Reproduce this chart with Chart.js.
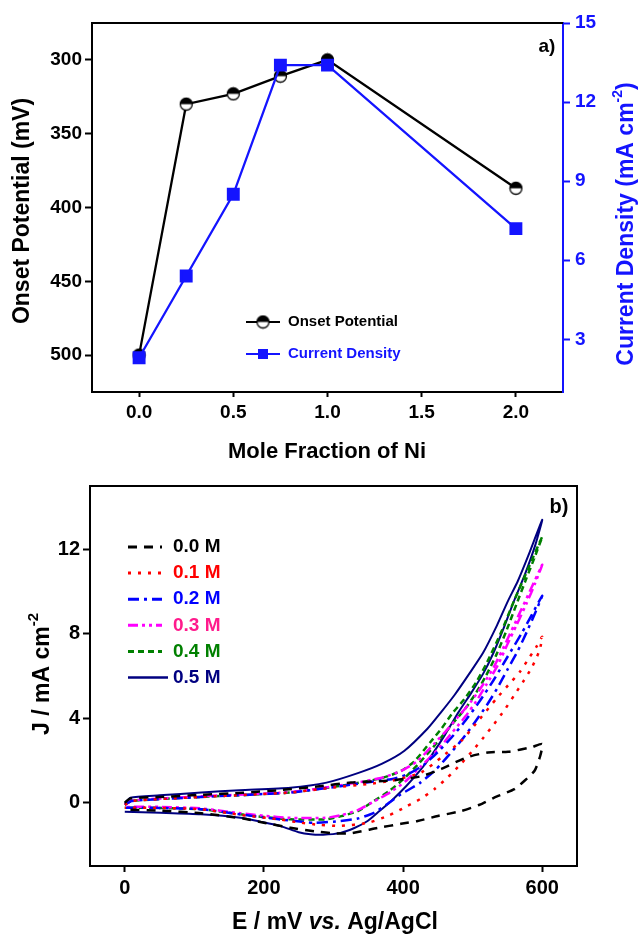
<!DOCTYPE html>
<html lang="en">
<head>
<meta charset="UTF-8" />
<title>Onset Potential / Current Density and CV curves</title>
<style>
  body { margin: 0; background: #fff; }
  canvas { position: absolute; left: 0; }
  #chartA { top: 0; }
  #chartB { top: 470px; }
</style>
<script src="https://cdn.jsdelivr.net/npm/chart.js"></script>
</head>
<body>
<canvas id="chartA" width="639" height="466"></canvas>
<canvas id="chartB" width="639" height="466"></canvas>
<script>
  const FAMILY = '"Liberation Sans", Arial, sans-serif';

  // ---- panel a) ----
  const moleFraction   = [0, 0.25, 0.5, 0.75, 1.0, 2.0];
  const onsetPotential = [500, 330, 323, 311, 300, 387];
  const currentDensity = [2.3, 5.4, 8.5, 13.4, 13.4, 7.2];
  const fractionTicks  = [0, 0.5, 1.0, 1.5, 2.0];
  const onsetTicks     = [300, 350, 400, 450, 500];
  const densityTicks   = [3, 6, 9, 12, 15];

  // ---- panel b) : each loop runs 0 -> 600 mV and back to 0 ----
  const cv00E = [0, 8, 50, 110, 170, 225, 280, 325, 383, 426, 455, 491, 522, 551, 584, 600,
                 597, 589, 575, 560, 531, 510, 483, 450, 421, 397, 363, 325, 300, 272, 238, 200, 170, 110, 50, 0];
  const cv00J = [0, 0.2, 0.27, 0.37, 0.47, 0.6, 0.78, 0.95, 1.05, 1.25, 1.6, 2.14, 2.38, 2.41, 2.62, 2.78,
                 2.2, 1.51, 1.05, 0.64, 0.24, -0.1, -0.4, -0.63, -0.87, -1.0, -1.2, -1.45, -1.45, -1.35, -1.19, -0.95, -0.75, -0.5, -0.38, -0.33];

  const cv01E = [0, 10, 110, 180, 238, 300, 349, 385, 426, 455, 484, 510, 534, 551, 568, 582, 592, 600,
                 596, 585, 572, 560, 546, 531, 516, 500, 483, 464, 445, 426, 406, 380, 350, 310, 280, 253, 224, 166, 109, 50, 0];
  const cv01J = [-0.1, 0.08, 0.27, 0.38, 0.48, 0.72, 0.88, 1.05, 1.43, 2.15, 2.94, 3.95, 4.92, 5.56, 6.2, 6.9, 7.4, 7.86,
                 7.2, 6.4, 5.7, 5.1, 4.4, 3.73, 3.1, 2.46, 1.83, 1.19, 0.64, 0.2, -0.16, -0.6, -0.95, -1.1, -1.05, -0.95, -0.8, -0.58, -0.31, -0.25, -0.24];

  const cv02E = [0, 10, 110, 180, 238, 310, 368, 383, 407, 430, 450, 470, 490, 510, 530, 550, 570, 585, 600,
                 590, 578, 565, 550, 535, 520, 503, 485, 467, 448, 425, 397, 378, 358, 335, 300, 272, 238, 200, 166, 109, 50, 0];
  const cv02J = [-0.1, 0.08, 0.27, 0.38, 0.48, 0.78, 1.05, 1.11, 1.35, 1.8, 2.4, 3.1, 3.9, 4.8, 5.8, 6.9, 8.0, 8.9, 9.8,
                 9.0, 8.1, 7.2, 6.3, 5.4, 4.6, 3.8, 3.0, 2.3, 1.6, 0.95, 0.4, -0.05, -0.48, -0.75, -0.9, -0.95, -0.85, -0.7, -0.55, -0.31, -0.25, -0.24];

  const cv03E = [0, 10, 110, 180, 238, 310, 368, 397, 420, 445, 462, 480, 498, 515, 530, 548, 565, 582, 600,
                 590, 577, 563, 550, 536, 520, 505, 490, 475, 460, 445, 425, 403, 382, 358, 335, 310, 288, 238, 200, 166, 109, 50, 0];
  const cv03J = [-0.1, 0.1, 0.3, 0.4, 0.5, 0.82, 1.17, 1.5, 1.95, 2.8, 3.4, 4.1, 4.8, 5.6, 6.4, 7.6, 8.8, 10.0, 11.27,
                 10.4, 9.4, 8.4, 7.5, 6.5, 5.6, 4.8, 4.1, 3.5, 2.9, 2.35, 1.7, 1.0, 0.5, 0.05, -0.35, -0.6, -0.72, -0.72, -0.62, -0.5, -0.27, -0.2, -0.2];

  const cv04E = [0, 10, 110, 180, 238, 310, 368, 397, 416, 440, 455, 470, 488, 505, 520, 540, 560, 580, 600,
                 590, 577, 563, 548, 534, 519, 503, 488, 470, 455, 440, 421, 400, 380, 358, 335, 310, 288, 238, 200, 166, 109, 50, 0];
  const cv04J = [-0.1, 0.08, 0.27, 0.38, 0.48, 0.8, 1.15, 1.5, 1.95, 2.9, 3.5, 4.2, 4.9, 5.7, 6.6, 8.0, 9.6, 11.1, 12.6,
                 11.7, 10.6, 9.4, 8.1, 7.0, 6.0, 5.1, 4.4, 3.7, 3.1, 2.5, 1.8, 1.1, 0.55, 0.08, -0.4, -0.65, -0.79, -0.79, -0.68, -0.55, -0.31, -0.25, -0.24];

  const cv05E = [0, 8, 50, 110, 165, 238, 290, 335, 370, 402, 435, 455, 474, 495, 515, 535, 550, 565, 580, 600,
                 590, 575, 560, 545, 530, 515, 498, 480, 460, 440, 426, 405, 383, 366, 349, 330, 310, 285, 267, 250, 224, 195, 166, 109, 51, 0];
  const cv05J = [-0.05, 0.24, 0.35, 0.48, 0.59, 0.71, 0.95, 1.4, 1.85, 2.46, 3.5, 4.3, 5.1, 6.1, 7.1, 8.4, 9.5, 10.5, 11.7, 13.4,
                 12.2, 10.8, 9.6, 8.3, 7.1, 6.1, 5.2, 4.3, 3.2, 2.2, 1.59, 0.8, 0.08, -0.4, -0.87, -1.2, -1.43, -1.52, -1.5, -1.4, -1.11, -0.9, -0.71, -0.55, -0.48, -0.43];

  const cvLabels       = ['0.0 M', '0.1 M', '0.2 M', '0.3 M', '0.4 M', '0.5 M'];
  const potentialTicks = [0, 200, 400, 600];
  const jTicks         = [0, 4, 8, 12];

  const font = (size, style) => (style || '') + ' bold ' + size + 'px ' + FAMILY;

  function richText(ctx, parts, x, y, angle) {
    ctx.save();
    ctx.translate(x, y);
    ctx.rotate(angle || 0);
    ctx.textBaseline = 'middle';
    ctx.textAlign = 'left';
    let w = 0;
    parts.forEach(p => { ctx.font = p.font; w += ctx.measureText(p.text).width; });
    let cx = -w / 2;
    parts.forEach(p => {
      ctx.font = p.font;
      ctx.fillStyle = p.color;
      ctx.fillText(p.text, cx, p.dy || 0);
      cx += ctx.measureText(p.text).width;
    });
    ctx.restore();
  }

  function halfCircle(r) {
    const c = document.createElement('canvas');
    const s = Math.ceil(2 * r + 3);
    c.width = s; c.height = s;
    const g = c.getContext('2d');
    const m = s / 2;
    g.beginPath(); g.arc(m, m, r, 0, Math.PI * 2); g.fillStyle = '#fff'; g.fill();
    g.beginPath(); g.arc(m, m, r, Math.PI, 0); g.closePath(); g.fillStyle = '#000'; g.fill();
    g.beginPath(); g.arc(m, m, r, 0, Math.PI * 2); g.lineWidth = 1.3; g.strokeStyle = '#000'; g.stroke();
    return c;
  }

  const BLUE = '#1414ff';
  const circleMark = halfCircle(6);

  function axisStyle(color, size, tickLen) {
    return {
      ticks: { font: { family: FAMILY, size: size, weight: 'bold' }, color: color, padding: 3 },
      grid: { drawOnChartArea: false, drawTicks: true, tickLength: tickLen, tickWidth: 2, tickColor: color },
      border: { display: true, color: color, width: 2 }
    };
  }

  // ---------- chart a ----------
  const decorA = {
    id: 'decorA',
    afterDraw(chart) {
      const ctx = chart.ctx, a = chart.chartArea;
      ctx.save();
      ctx.strokeStyle = '#000'; ctx.lineWidth = 2;
      ctx.beginPath(); ctx.moveTo(a.left - 1, a.top); ctx.lineTo(a.right, a.top); ctx.stroke();

      richText(ctx, [{ text: 'Onset Potential (mV)', font: font(23), color: '#000' }], 23, 211, -Math.PI / 2);
      richText(ctx, [
        { text: 'Current Density (mA cm', font: font(23), color: BLUE },
        { text: '-2', font: font(14), color: BLUE, dy: -9 },
        { text: ')', font: font(23), color: BLUE }
      ], 627, 224, -Math.PI / 2);
      richText(ctx, [{ text: 'Mole Fraction of Ni', font: font(22), color: '#000' }], 327, 452, 0);
      richText(ctx, [{ text: 'a)', font: font(19), color: '#000' }], 547, 47, 0);

      // legend
      const items = [
        { y: 322, color: '#000', label: 'Onset Potential', mark: 'circle' },
        { y: 354, color: BLUE, label: 'Current Density', mark: 'rect' }
      ];
      items.forEach(it => {
        ctx.strokeStyle = it.color; ctx.lineWidth = 2;
        ctx.beginPath(); ctx.moveTo(246, it.y); ctx.lineTo(280, it.y); ctx.stroke();
        if (it.mark === 'circle') {
          ctx.drawImage(circleMark, 263 - circleMark.width / 2, it.y - circleMark.height / 2);
        } else {
          ctx.fillStyle = it.color; ctx.fillRect(258, it.y - 5, 10, 10);
        }
        ctx.font = font(15); ctx.fillStyle = it.color;
        ctx.textAlign = 'left'; ctx.textBaseline = 'middle';
        ctx.fillText(it.label, 288, it.y);
      });
      ctx.restore();
    }
  };

  const xA = axisStyle('#000', 19, 5);
  xA.ticks.callback = v => Number(v).toFixed(1);
  xA.ticks.padding = 4;
  const yA = axisStyle('#000', 19, 7);
  const y2A = axisStyle(BLUE, 19, 7);
  y2A.ticks.padding = 5;

  new Chart(document.getElementById('chartA'), {
    type: 'line',
    data: {
      datasets: [
        {
          label: 'Onset Potential',
          data: moleFraction.map((x, i) => ({ x: x, y: onsetPotential[i] })),
          yAxisID: 'y',
          borderColor: '#000',
          borderWidth: 2.3,
          pointStyle: circleMark,
          pointRadius: 6,
          tension: 0,
          order: 1
        },
        {
          label: 'Current Density',
          data: moleFraction.map((x, i) => ({ x: x, y: currentDensity[i] })),
          yAxisID: 'y2',
          borderColor: BLUE,
          backgroundColor: BLUE,
          pointBackgroundColor: BLUE,
          pointBorderColor: BLUE,
          borderWidth: 2.3,
          pointStyle: 'rect',
          pointRadius: 7.5,
          tension: 0,
          order: 0
        }
      ]
    },
    options: {
      responsive: false,
      animation: false,
      layout: { padding: { top: 23 } },
      plugins: { legend: { display: false }, tooltip: { enabled: false } },
      scales: {
        x: Object.assign(xA, {
          type: 'linear', min: -0.25, max: 2.25,
          afterBuildTicks: s => { s.ticks = fractionTicks.map(v => ({ value: v })); },
          afterFit: s => { s.height = 74; }
        }),
        y: Object.assign(yA, {
          position: 'left', reverse: true, min: 275, max: 525,
          afterBuildTicks: s => { s.ticks = onsetTicks.map(v => ({ value: v })); },
          afterFit: s => { s.width = 92; }
        }),
        y2: Object.assign(y2A, {
          position: 'right', min: 1, max: 15,
          afterBuildTicks: s => { s.ticks = densityTicks.map(v => ({ value: v })); },
          afterFit: s => { s.width = 76; }
        })
      }
    },
    plugins: [decorA]
  });

  // ---------- chart b ----------
  const cvE = [cv00E, cv01E, cv02E, cv03E, cv04E, cv05E];
  const cvJ = [cv00J, cv01J, cv02J, cv03J, cv04J, cv05J];
  const cvColors = ['#000000', '#ff0000', '#0000ff', '#ff00ff', '#008000', '#000080'];
  const cvText   = ['#000000', '#ff0000', '#0000ff', '#ff1a8c', '#008000', '#000080'];
  const cvDash   = [[9, 7], [3, 7], [11, 5, 3, 5], [10, 4, 3, 4, 3, 4], [6, 4], []];
  const cvWidth  = [2.5, 2.5, 2.5, 2.5, 2.5, 2];

  const decorB = {
    id: 'decorB',
    afterDraw(chart) {
      const ctx = chart.ctx, a = chart.chartArea;
      ctx.save();
      ctx.strokeStyle = '#000'; ctx.lineWidth = 2;
      ctx.beginPath();
      ctx.moveTo(a.left - 1, a.top); ctx.lineTo(a.right, a.top); ctx.lineTo(a.right, a.bottom + 1);
      ctx.stroke();

      richText(ctx, [
        { text: 'J / mA cm', font: font(23), color: '#000' },
        { text: '-2', font: font(15), color: '#000', dy: -9 }
      ], 43, 204, -Math.PI / 2);
      richText(ctx, [
        { text: 'E / mV ', font: font(23), color: '#000' },
        { text: 'vs.', font: font(23, 'italic'), color: '#000' },
        { text: ' Ag/AgCl', font: font(23), color: '#000' }
      ], 335, 453, 0);
      richText(ctx, [{ text: 'b)', font: font(20), color: '#000' }], 559, 37, 0);

      // legend
      cvLabels.forEach((lab, i) => {
        const y = 77 + i * 26.1;
        ctx.strokeStyle = cvColors[i];
        ctx.lineWidth = cvWidth[i] + 0.5;
        ctx.setLineDash(cvDash[i]);
        ctx.beginPath(); ctx.moveTo(128, y); ctx.lineTo(i === 5 ? 168 : 162, y); ctx.stroke();
        ctx.setLineDash([]);
        ctx.font = font(19); ctx.fillStyle = cvText[i];
        ctx.textAlign = 'left'; ctx.textBaseline = 'middle';
        ctx.fillText(lab, 173, y);
      });
      ctx.restore();
    }
  };

  const xB = axisStyle('#000', 20, 6);
  xB.ticks.padding = 4;
  const yB = axisStyle('#000', 20, 7);

  new Chart(document.getElementById('chartB'), {
    type: 'line',
    data: {
      datasets: cvLabels.map((lab, i) => ({
        label: lab,
        data: cvE[i].map((e, k) => ({ x: e, y: cvJ[i][k] })),
        borderColor: cvColors[i],
        borderWidth: cvWidth[i],
        borderDash: cvDash[i],
        pointRadius: 0,
        tension: 0.2,
        fill: false
      }))
    },
    options: {
      responsive: false,
      animation: false,
      layout: { padding: { top: 16, right: 62 } },
      plugins: { legend: { display: false }, tooltip: { enabled: false } },
      scales: {
        x: Object.assign(xB, {
          type: 'linear', min: -50, max: 650,
          afterBuildTicks: s => { s.ticks = potentialTicks.map(v => ({ value: v })); },
          afterFit: s => { s.height = 70; }
        }),
        y: Object.assign(yB, {
          position: 'left', min: -3, max: 15,
          afterBuildTicks: s => { s.ticks = jTicks.map(v => ({ value: v })); },
          afterFit: s => { s.width = 90; }
        })
      }
    },
    plugins: [decorB]
  });
</script>
</body>
</html>
